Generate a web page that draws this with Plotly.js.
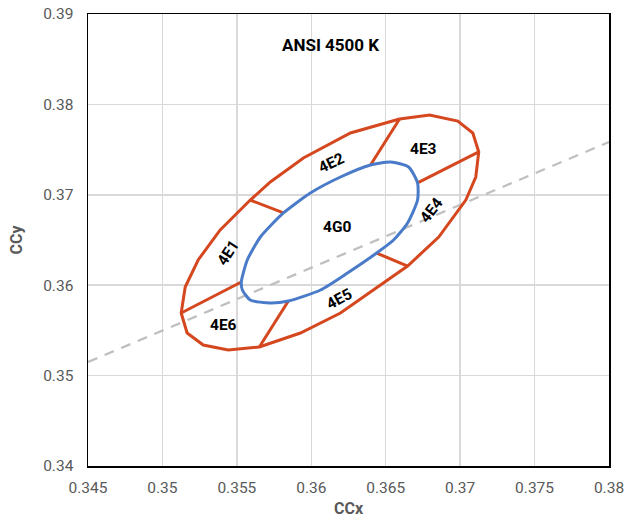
<!DOCTYPE html>
<html>
<head>
<meta charset="utf-8">
<script src="https://cdn.plot.ly/plotly-3.0.1.min.js"></script>
<style>html,body{margin:0;padding:0;background:#fff;}#chart{width:628px;height:525px;}</style>
</head>
<body>
<div id="chart"></div>
<script>
// Outer quadrangle boundary (4E1..4E6 outer edge)
const outerX = [0.36593,0.36795,0.36984,0.37085,0.37125,0.37105,0.37038,0.36856,0.36647,0.36418,0.36196,0.35927,0.35651,0.35442,0.35274,0.35166,0.35126,0.35153,0.35240,0.35388,0.35590,0.35725,0.35947,0.36263,0.36593];
const outerY = [0.37838,0.37883,0.37816,0.37684,0.37474,0.37197,0.36942,0.36533,0.36212,0.35947,0.35692,0.35471,0.35316,0.35283,0.35338,0.35471,0.35692,0.35980,0.36279,0.36611,0.36942,0.37142,0.37407,0.37684,0.37838];
// Inner ellipse (4G0)
const innerX = [0.36398,0.36533,0.36654,0.36714,0.36714,0.36647,0.36553,0.36439,0.36243,0.36062,0.35846,0.35725,0.35590,0.35537,0.35530,0.35570,0.35658,0.35813,0.35994,0.36196,0.36398];
const innerY = [0.37330,0.37363,0.37308,0.37131,0.36942,0.36688,0.36500,0.36356,0.36135,0.35947,0.35825,0.35803,0.35836,0.35947,0.36035,0.36279,0.36533,0.36799,0.37020,0.37197,0.37330];
// Divider segments: outer point -> inner point
const divOuterX = [0.35590,0.36593,0.37125,0.36647,0.35651,0.35126];
const divOuterY = [0.36942,0.37838,0.37474,0.36212,0.35316,0.35692];
const divInnerX = [0.35813,0.36398,0.36714,0.36439,0.35846,0.35530];
const divInnerY = [0.36799,0.37330,0.37131,0.36356,0.35825,0.36035];
// Dashed reference line
const refX = [0.345, 0.380];
const refY = [0.35150, 0.37584];
// Region labels
const labelText = ["4E1","4E2","4E3","4E4","4E5","4E6","4G0"];
const labelX = [0.35442,0.36136,0.36755,0.36809,0.36189,0.35409,0.36176];
const labelY = [0.36356,0.37352,0.37507,0.36832,0.35847,0.35560,0.36644];
const labelAngle = [-57,-25,0,-52,-28,0,0];
const chartTitle = "ANSI 4500 K";
const titleX = 0.36129, titleY = 0.38657;
const xTicks = [0.345,0.35,0.355,0.36,0.365,0.37,0.375,0.38];
const yTicks = [0.34,0.35,0.36,0.37,0.38,0.39];

const red = '#D5471E', blue = '#4A7BC8';

const dX = [], dY = [];
for (let i = 0; i < divOuterX.length; i++) {
  dX.push(divOuterX[i], divInnerX[i], null);
  dY.push(divOuterY[i], divInnerY[i], null);
}

const traces = [
  {x: refX, y: refY, mode: 'lines', line: {color: '#BFBFBF', width: 2.25, dash: '10px,8px'}, hoverinfo: 'skip'},
  {x: outerX, y: outerY, mode: 'lines', line: {color: red, width: 3}},
  {x: dX, y: dY, mode: 'lines', line: {color: red, width: 3}, connectgaps: false},
  {x: innerX, y: innerY, mode: 'lines', line: {color: blue, width: 3, shape: 'spline', smoothing: 0.6}}
];

const annotations = labelText.map((t, i) => ({
  x: labelX[i], y: labelY[i], text: '<b>' + t + '</b>', showarrow: false,
  textangle: labelAngle[i], font: {family: 'Roboto, sans-serif', size: 15.5, color: '#000'}
}));
annotations.push({x: titleX, y: titleY, text: '<b>' + chartTitle + '</b>', showarrow: false,
  font: {family: 'Roboto, sans-serif', size: 17, color: '#000'}});

const axisCommon = {
  showgrid: true, gridcolor: '#D9D9D9', gridwidth: 1.5,
  showline: true, linecolor: '#000', linewidth: 1.5, mirror: true,
  zeroline: false, ticks: '', tickfont: {family: 'Roboto, sans-serif', size: 15.5, color: '#595959'}
};

const layout = {
  width: 628, height: 525,
  margin: {l: 88, r: 19, t: 14, b: 59},
  paper_bgcolor: '#fff', plot_bgcolor: '#fff',
  showlegend: false,
  font: {family: 'Roboto, sans-serif'},
  xaxis: Object.assign({}, axisCommon, {
    range: [0.345, 0.38], tickmode: 'array', tickvals: xTicks, ticktext: xTicks.map(String),
    ticklabelstandoff: 7,
    title: {text: '<b>CCx</b>', font: {family: 'Roboto, sans-serif', size: 16, color: '#595959'}, standoff: 6}
  }),
  yaxis: Object.assign({}, axisCommon, {
    range: [0.34, 0.39], tickmode: 'array', tickvals: yTicks, ticktext: yTicks.map(v => v.toFixed(2)),
    ticklabelstandoff: 10,
    title: {text: '<b>CCy</b>', font: {family: 'Roboto, sans-serif', size: 16, color: '#595959'}, standoff: 16}
  }),
  annotations: annotations
};

Plotly.newPlot('chart', traces, layout, {staticPlot: true, displayModeBar: false});
</script>
</body>
</html>
